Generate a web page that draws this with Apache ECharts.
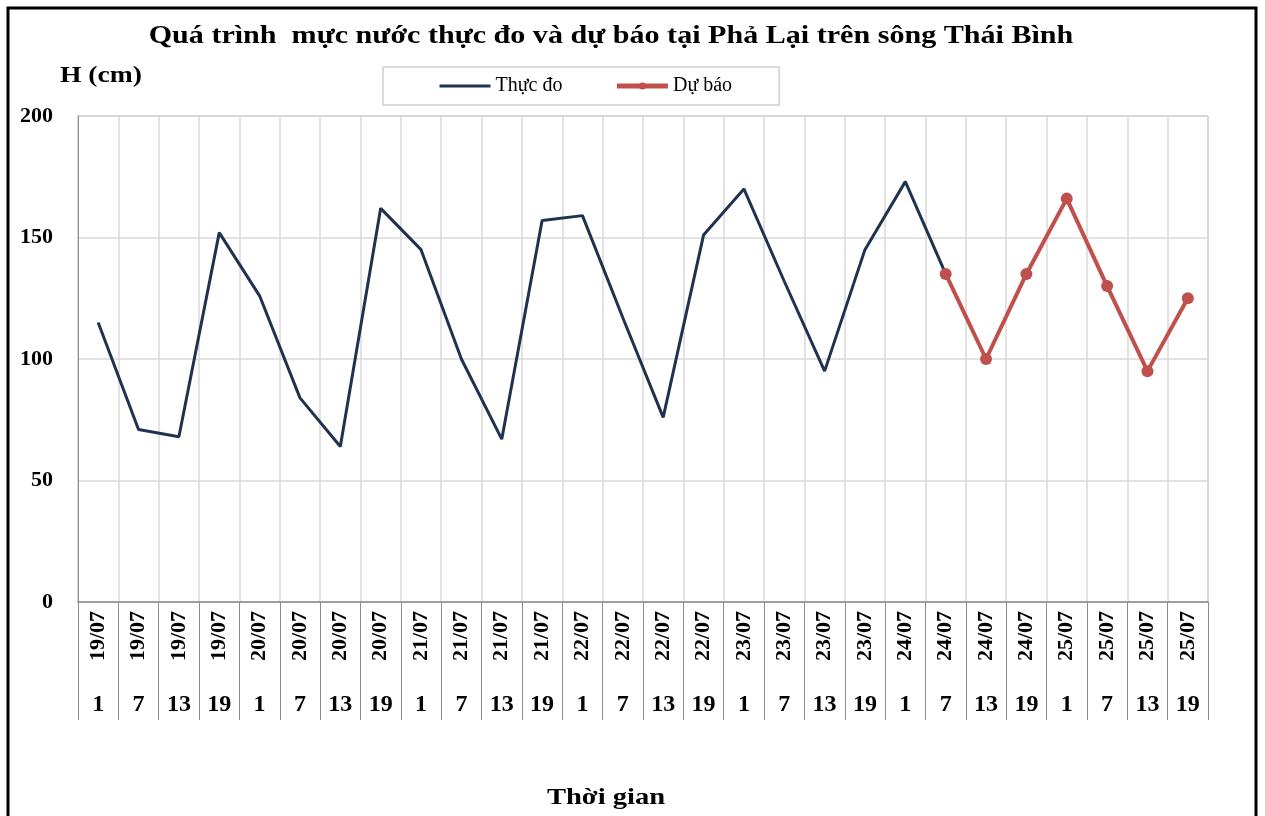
<!DOCTYPE html>
<html>
<head>
<meta charset="utf-8">
<script src="https://cdn.jsdelivr.net/npm/echarts@6/dist/echarts.min.js"></script>
<style>
  html, body { margin: 0; padding: 0; background: #fff; }
  #chart { width: 1265px; height: 816px; }
</style>
</head>
<body>
<div id="chart"></div>
<script>
// ngày / giờ trên trục thời gian
const dates = [
  "19/07", "19/07", "19/07", "19/07",
  "20/07", "20/07", "20/07", "20/07",
  "21/07", "21/07", "21/07", "21/07",
  "22/07", "22/07", "22/07", "22/07",
  "23/07", "23/07", "23/07", "23/07",
  "24/07", "24/07", "24/07", "24/07",
  "25/07", "25/07", "25/07", "25/07"
];
const hours = [
  "1", "7", "13", "19", "1", "7", "13", "19", "1", "7", "13", "19", "1", "7",
  "13", "19", "1", "7", "13", "19", "1", "7", "13", "19", "1", "7", "13", "19"
];
// mực nước thực đo (cm)
const observed = [
  115, 71, 68, 152, 126, 84, 64, 162, 145, 100, 67, 157, 159, 117,
  76, 151, 170, 132, 95, 145, 173, 135, null, null, null, null, null, null
];
// mực nước dự báo (cm)
const forecast = [
  null, null, null, null, null, null, null, null, null, null, null, null, null, null,
  null, null, null, null, null, null, null, 135, 100, 135, 166, 130, 95, 125
];
const yTicks = { min: 0, max: 200, interval: 50 };

const FONT = "'Liberation Serif', 'Times New Roman', serif";
const NAVY = "#1f3350";
const RED = "#c0504d";
const chart = echarts.init(document.getElementById("chart"));

// chữ in đậm, hơi giãn ngang như bản gốc
function label(text, x, y, size, sx, align) {
  return {
    type: "text", x: x, y: y, scaleX: sx,
    style: {
      text: text, x: 0, y: 0,
      font: "bold " + size + "px " + FONT,
      fill: "#000", align: align, verticalAlign: "middle"
    }
  };
}

chart.setOption({
  backgroundColor: "#fff",
  animation: false,
  textStyle: { fontFamily: FONT, color: "#000" },
  graphic: [
    {
      type: "rect",
      shape: { x: 8, y: 8, width: 1248, height: 850 },
      style: { fill: "none", stroke: "#000", lineWidth: 3 }
    },
    label("Quá trình  mực nước thực đo và dự báo tại Phả Lại trên sông Thái Bình", 611, 36, 26, 1.157, "center"),
    label("H (cm)", 60, 76, 24, 1.15, "left"),
    label("Thời gian", 606, 798, 24, 1.19, "center")
  ],
  legend: {
    left: 383, top: 67,
    padding: [9, 47, 9, 55],
    itemGap: 52,
    itemWidth: 51, itemHeight: 9,
    borderColor: "#d0d0d0", borderWidth: 1.5,
    textStyle: { fontFamily: FONT, fontSize: 20, color: "#000" },
    data: [
      { name: "Thực đo", itemStyle: { opacity: 0 }, lineStyle: { width: 3, color: NAVY } },
      { name: "Dự báo", lineStyle: { width: 5, color: RED } }
    ]
  },
  grid: {
    left: 78, right: 57, top: 116, bottom: 214,
    show: true, borderColor: "#a6a6a6", borderWidth: 1
  },
  xAxis: [
    {
      type: "category",
      data: dates,
      boundaryGap: true,
      axisLine: { lineStyle: { color: "#8c8c8c", width: 1.5 } },
      axisTick: { show: true, interval: 0, length: 118, lineStyle: { color: "#8c8c8c" } },
      splitLine: { show: true, interval: 0, lineStyle: { color: "#d9d9d9", width: 1.5 } },
      axisLabel: {
        interval: 0, rotate: 90, margin: 9,
        fontFamily: FONT, fontSize: 22, fontWeight: "bold", color: "#000"
      }
    },
    {
      type: "category",
      data: hours,
      position: "bottom",
      axisLine: { show: false },
      axisTick: { show: false },
      splitLine: { show: false },
      axisLabel: {
        interval: 0, margin: 91,
        fontFamily: FONT, fontSize: 24, fontWeight: "bold", color: "#000"
      }
    }
  ],
  yAxis: {
    type: "value",
    min: yTicks.min, max: yTicks.max, interval: yTicks.interval,
    axisLine: { show: true, lineStyle: { color: "#8c8c8c" } },
    axisTick: { show: false },
    splitLine: { lineStyle: { color: "#d9d9d9", width: 1.5 } },
    axisLabel: {
      margin: 25,
      fontFamily: FONT, fontSize: 22, fontWeight: "bold", color: "#000"
    }
  },
  series: [
    {
      name: "Thực đo",
      type: "line",
      data: observed,
      xAxisIndex: 0,
      symbol: "none",
      color: NAVY,
      lineStyle: { color: NAVY, width: 3 }
    },
    {
      name: "Dự báo",
      type: "line",
      data: forecast,
      xAxisIndex: 0,
      symbol: "circle",
      symbolSize: 12,
      color: RED,
      itemStyle: { color: RED },
      lineStyle: { color: RED, width: 4 },
      z: 3
    }
  ]
});
</script>
</body>
</html>
